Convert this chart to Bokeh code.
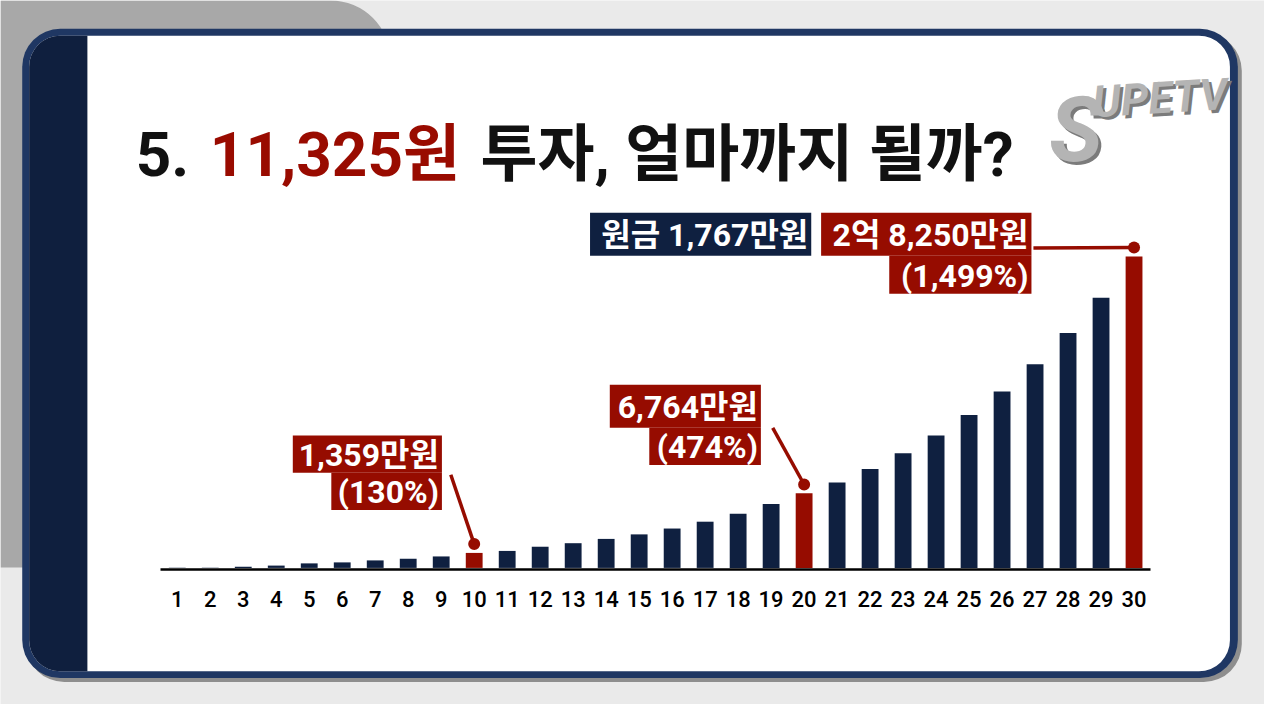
from bokeh.plotting import figure
from bokeh.models import Range1d, LinearAxis, FixedTicker, BoxAnnotation, Label
from bokeh.embed import file_html
from bokeh.resources import INLINE

# ---------------- data ----------------
years = list(range(1, 31))
values = [8, 20, 110, 210, 410, 500, 680, 830, 1040, 1359,
          1540, 1920, 2240, 2630, 3040, 3570, 4190, 4900, 5790, 6764,
          7740, 8980, 10400, 12000, 13860, 15990, 18470, 21310, 24500, 28250]
highlight_years = [10, 20, 30]
highlight_amounts = ["1,359만원", "6,764만원", "2억 8,250만원"]
highlight_pcts = ["(130%)", "(474%)", "(1,499%)"]
principal_text = "원금 1,767만원"
title_parts = ["5.", "11,325원", "투자, 얼마까지 될까?"]
logo_text = ["S", "UPETV"]

# ---------------- style / layout ----------------
NAVY = "#0f2040"
RED = "#960c00"
FONT = "Roboto, 'Noto Sans CJK KR', sans-serif"
W, H = 1264, 704
SW, SH = 1280, 720             # slide coordinate system (mapped onto the figure)
X1_PX, STEP_PX = 179.0, 33.41  # slide x of year 1, spacing per year
BASE_PX, YPX = 580.3, 0.011278 # slide y of zero, slide pixels per 만원
GAP = 800                      # dot gap above bar (만원)
AXIS_DROP = 110                # axis line sits just under the bars (만원)


def px_to_x(X):
    return 1 + (X - X1_PX) / STEP_PX


def px_to_y(Y):
    return (BASE_PX - Y) / YPX


p = figure(width=W, height=H,
           x_range=Range1d(px_to_x(0), px_to_x(SW)),
           y_range=Range1d(px_to_y(SH), px_to_y(0)),
           x_axis_location=None, y_axis_location=None,
           toolbar_location=None, output_backend="svg",
           min_border=0, min_border_left=0, min_border_right=0,
           min_border_top=0, min_border_bottom=0,
           outline_line_color=None,
           background_fill_color="#eaeaea", border_fill_color="#eaeaea")
p.extra_x_ranges = {"px": Range1d(0, SW)}
p.extra_y_ranges = {"py": Range1d(SH, 0)}
p.grid.visible = False


def box(l, r, t, b, color, radius=0, level="underlay"):
    p.add_layout(BoxAnnotation(left=l, right=r, top=t, bottom=b,
                               x_range_name="px", y_range_name="py",
                               fill_color=color, fill_alpha=1.0,
                               line_color=None, border_radius=radius,
                               level=level))


# background decorations
box(0, 395, 0, 580, "#a8a8a8", radius=(0, 60, 0, 0))
box(26, 1257, 33, 697, "#8e8e8e", radius=38)
box(22, 1253, 29, 693, "#1f3763", radius=38)
box(29, 1245, 36, 686, "#ffffff", radius=31)
box(29, 88, 36, 686, "#0f1f3e", radius=(31, 0, 0, 31))

# title
title_x = [137, 212, 486]
title_colors = ["#111111", "#990b00", "#111111"]
for t, x, c in zip(title_parts, title_x, title_colors):
    p.add_layout(Label(x=x, y=157, x_range_name="px", y_range_name="py",
                       text=t, text_font=FONT, text_font_size="62px",
                       text_font_style="bold", text_color=c,
                       text_baseline="alphabetic", text_align="left"))

# logo
for dx, col in [(3, "#7b7b7b"), (0, "#b4b4b4")]:
    p.add_layout(Label(x=1062 + dx, y=133 + dx, x_range_name="px", y_range_name="py",
                       text=logo_text[0], text_font="Roboto", text_font_size="90px",
                       text_font_style="bold italic", text_color=col,
                       text_baseline="alphabetic"))
    p.add_layout(Label(x=1106 + dx, y=104 + dx, x_range_name="px", y_range_name="py",
                       text=logo_text[1], text_font="Roboto", text_font_size="44px",
                       text_font_style="bold italic", text_color=col,
                       text_baseline="alphabetic", angle=0.06))

# bars
colors = [RED if y in highlight_years else NAVY for y in years]
p.vbar(x=years, top=values, bottom=0, width=0.51, fill_color=colors, line_color=None)

# axis
ax = LinearAxis(ticker=FixedTicker(ticks=years), fixed_location=-AXIS_DROP,
                bounds=(0.5, 30.5), axis_line_color="black", axis_line_width=2.5,
                major_tick_line_color=None, minor_tick_line_color=None,
                major_label_text_font="'Roboto Medium', Roboto",
                major_label_text_font_size="22px",
                major_label_text_color="black", major_label_standoff=16)
p.add_layout(ax, "below")

# dots and leader lines
hl_vals = [values[years.index(y)] for y in highlight_years]
dot_y = [v + GAP for v in hl_vals]
anchors_px = [(456, 485), (782, 437), (1046, 253)]
p.segment(x0=[px_to_x(a[0]) for a in anchors_px], y0=[px_to_y(a[1]) for a in anchors_px],
          x1=highlight_years, y1=dot_y, line_color=RED, line_width=3.5)
p.scatter(x=highlight_years, y=dot_y, size=12, fill_color=RED, line_color=None)

# callout boxes (slide pixel layout)
rows = [
    (highlight_amounts[0], 296, 447, 445, 483, RED),
    (highlight_pcts[0], 335, 447, 483, 521, RED),
    (highlight_amounts[1], 617, 770, 393, 437, RED),
    (highlight_pcts[1], 657, 770, 437, 475, RED),
    (principal_text, 597, 821, 217, 261, NAVY),
    (highlight_amounts[2], 831, 1044, 217, 261, RED),
    (highlight_pcts[2], 900, 1044, 261, 300, RED),
]
for text, l, r, t, b, col in rows:
    box(l, r, t, b, col, level="annotation")
for text, l, r, t, b, col in rows:
    p.add_layout(Label(x=r - 3, y=(t + b) / 2 + 1, x_range_name="px", y_range_name="py",
                       text=text, text_font=FONT, text_font_size="32px",
                       text_font_style="bold", text_color="white",
                       text_align="right", text_baseline="middle"))

open("out.html", "w").write(file_html(p, INLINE))
